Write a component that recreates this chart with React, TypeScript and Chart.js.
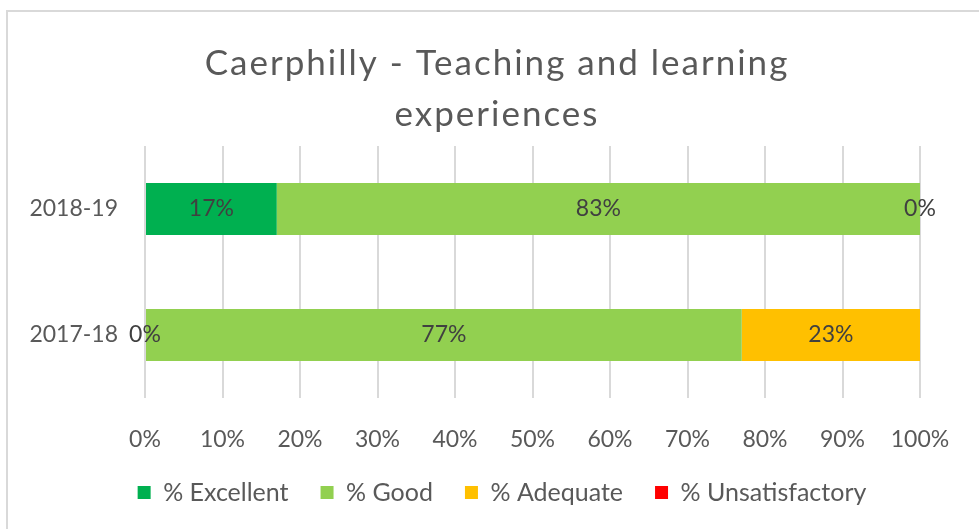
import React, { useEffect, useRef } from "react";
import { Chart, registerables } from "chart.js";

Chart.register(...registerables);

const categories = ["2018-19", "2017-18"];
const seriesNames = ["% Excellent", "% Good", "% Adequate", "% Unsatisfactory"];
const excellent = [17, 0];
const good = [83, 77];
const adequate = [0, 23];
const unsatisfactory: (number | null)[] = [null, null];
const seriesColors = ["#00B050", "#92D050", "#FFC000", "#FF0000"];
const xTicks = [0, 10, 20, 30, 40, 50, 60, 70, 80, 90, 100];
const titleLines = ["Caerphilly - Teaching and learning", "experiences"];

const FONT = "Lato";
const TEXT = "#595959";
const CANVAS_W = 1004;
const CANVAS_H = 529;

const framePlugin = {
  id: "frame",
  beforeDraw(chart: any) {
    const ctx = chart.ctx;
    ctx.save();
    ctx.fillStyle = "#ffffff";
    ctx.fillRect(0, 0, chart.width, chart.height);
    ctx.strokeStyle = "#d9d9d9";
    ctx.lineWidth = 2;
    ctx.strokeRect(7, 11, chart.width + 20, chart.height + 20);
    ctx.restore();
  },
};

const titlePlugin = {
  id: "customTitle",
  afterDraw(chart: any) {
    const ctx = chart.ctx;
    ctx.save();
    ctx.font = `35px ${FONT}`;
    ctx.fillStyle = TEXT;
    ctx.textAlign = "center";
    ctx.textBaseline = "alphabetic";
    try {
      (ctx as any).letterSpacing = "2px";
    } catch (e) {}
    const cx = 497;
    titleLines.forEach((line, i) => {
      ctx.fillText(line, cx, 75 + i * 51);
    });
    try {
      (ctx as any).letterSpacing = "0px";
    } catch (e) {}
    ctx.restore();
  },
};

const labelPlugin = {
  id: "barLabels",
  afterDatasetsDraw(chart: any) {
    const ctx = chart.ctx;
    ctx.save();
    ctx.font = `23px ${FONT}`;
    ctx.fillStyle = "#404040";
    ctx.textAlign = "center";
    ctx.textBaseline = "middle";
    chart.data.datasets.forEach((ds: any, i: number) => {
      const meta = chart.getDatasetMeta(i);
      meta.data.forEach((el: any, j: number) => {
        const v = ds.data[j];
        if (v === null || v === undefined) return;
        const x = (el.x + el.base) / 2;
        ctx.fillText(`${v}%`, x, el.y);
      });
    });
    ctx.restore();
  },
};

export default function App() {
  const ref = useRef<HTMLCanvasElement>(null);
  useEffect(() => {
    if (!ref.current) return;
    const values = [excellent, good, adequate, unsatisfactory];
    const chart = new Chart(ref.current, {
      type: "bar",
      data: {
        labels: categories,
        datasets: seriesNames.map((name, i) => ({
          label: name,
          data: values[i],
          backgroundColor: seriesColors[i],
          borderWidth: 0,
          categoryPercentage: 1,
          barPercentage: 0.413,
        })),
      },
      options: {
        indexAxis: "y",
        animation: false,
        responsive: false,
        layout: { padding: { left: 0, right: 0, top: 146, bottom: 14 } },
        scales: {
          x: {
            stacked: true,
            min: 0,
            max: 100,
            afterBuildTicks(scale: any) {
              scale.ticks = xTicks.map((v) => ({ value: v }));
            },
            afterFit(scale: any) {
              scale.height = 50;
              scale.paddingRight = CANVAS_W - 920;
            },
            grid: { color: "#d9d9d9", lineWidth: 2, drawTicks: false },
            border: { display: false },
            ticks: {
              color: TEXT,
              font: { family: FONT, size: 23 },
              padding: 28,
              callback: (v: any) => `${v}%`,
            },
          },
          y: {
            stacked: true,
            afterFit(scale: any) {
              scale.width = 145;
            },
            grid: { display: false, drawTicks: false },
            border: { display: false },
            ticks: {
              color: TEXT,
              font: { family: FONT, size: 23 },
              padding: 27,
            },
          },
        },
        plugins: {
          title: { display: false },
          legend: {
            position: "bottom",
            labels: {
              color: TEXT,
              font: { family: FONT, size: 25 },
              boxWidth: 13,
              boxHeight: 13,
              padding: 32,
            },
          },
          tooltip: { enabled: false },
        },
      },
      plugins: [framePlugin, labelPlugin, titlePlugin],
    });
    return () => chart.destroy();
  }, []);
  return (
    <div
      style={{
        position: "fixed",
        left: 0,
        top: 0,
        width: 979,
        height: 529,
        overflow: "hidden",
      }}
    >
      <canvas ref={ref} width={CANVAS_W} height={CANVAS_H} style={{ display: "block" }} />
    </div>
  );
}
